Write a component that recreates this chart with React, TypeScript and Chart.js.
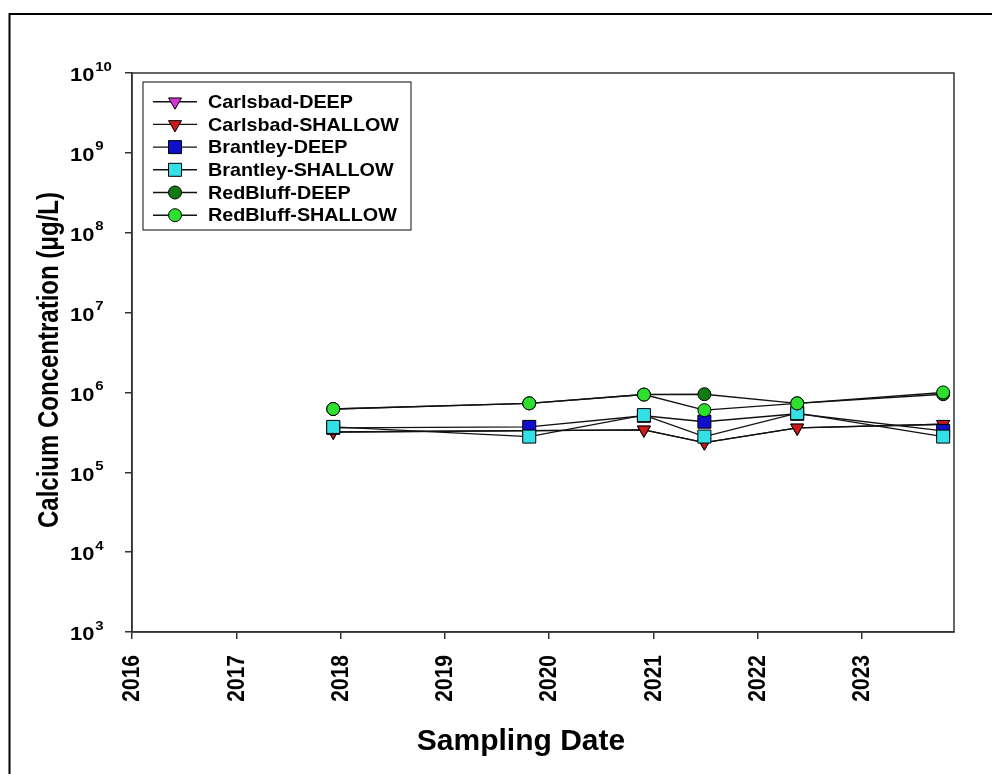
import React, { useEffect, useRef } from 'react';
import { Chart, registerables } from 'chart.js';

Chart.register(...registerables);

// Sampling dates as decimal years
const sampleDates = [2017.93, 2019.81, 2020.91, 2021.49, 2022.38, 2023.78];

// Calcium concentration (µg/L)
const carlsbadDeep: (number | null)[] = [3.2e5, null, 3.4e5, 2.35e5, 3.6e5, 4.0e5];
const carlsbadShallow: (number | null)[] = [3.2e5, null, 3.4e5, 2.35e5, 3.6e5, 4.0e5];
const brantleyDeep: (number | null)[] = [3.6e5, 3.7e5, 5.1e5, 4.3e5, 5.4e5, 3.3e5];
const brantleyShallow: (number | null)[] = [3.7e5, 2.8e5, 5.2e5, 2.8e5, 5.5e5, 2.8e5];
const redBluffDeep: (number | null)[] = [6.2e5, 7.3e5, 9.4e5, 9.5e5, 7.3e5, 9.5e5];
const redBluffShallow: (number | null)[] = [6.2e5, 7.3e5, 9.4e5, 6.0e5, 7.3e5, 1.0e6];

const seriesNames = [
  'Carlsbad-DEEP',
  'Carlsbad-SHALLOW',
  'Brantley-DEEP',
  'Brantley-SHALLOW',
  'RedBluff-DEEP',
  'RedBluff-SHALLOW',
];
const seriesValues = [carlsbadDeep, carlsbadShallow, brantleyDeep, brantleyShallow, redBluffDeep, redBluffShallow];
const seriesColors = ['#d633d6', '#cc1a1a', '#1010cc', '#33e0e6', '#127a12', '#2ee02e'];
const seriesMarkers = ['triDown', 'triDown', 'square', 'square', 'circle', 'circle'];

const yearTicks = [2016, 2017, 2018, 2019, 2020, 2021, 2022, 2023];
const xMin = 2016;
const xMax = 2023.884;
const yExponents = [3, 4, 5, 6, 7, 8, 9, 10];

const xTitle = 'Sampling Date';
const yTitle = 'Calcium Concentration (μg/L)';

const FONT = '"Liberation Sans", Arial, Helvetica, sans-serif';

function drawMarker(ctx: CanvasRenderingContext2D, kind: string, x: number, y: number, color: string) {
  ctx.save();
  ctx.fillStyle = color;
  ctx.strokeStyle = '#000';
  ctx.lineWidth = 1;
  ctx.beginPath();
  if (kind === 'circle') {
    ctx.arc(x, y, 6.5, 0, Math.PI * 2);
  } else if (kind === 'square') {
    ctx.rect(x - 6.5, y - 6.5, 13, 13);
  } else {
    const r = 7.5;
    ctx.moveTo(x, y + r);
    ctx.lineTo(x - r * Math.sin(Math.PI / 3), y - r / 2);
    ctx.lineTo(x + r * Math.sin(Math.PI / 3), y - r / 2);
    ctx.closePath();
  }
  ctx.fill();
  ctx.stroke();
  ctx.restore();
}

const decorPlugin = {
  id: 'decor',
  afterDraw(chart: any) {
    const ctx: CanvasRenderingContext2D = chart.ctx;
    const a = chart.chartArea;
    const ys = chart.scales.y;
    const xs = chart.scales.x;
    ctx.save();

    // outer frame
    ctx.strokeStyle = '#000';
    ctx.lineWidth = 2;
    ctx.beginPath();
    ctx.moveTo(9.5, 800);
    ctx.lineTo(9.5, 14);
    ctx.lineTo(1000, 14);
    ctx.stroke();

    // plot frame
    ctx.strokeStyle = '#333';
    ctx.lineWidth = 1.5;
    ctx.strokeRect(a.left, a.top, a.right - a.left, a.bottom - a.top);

    // y tick labels with superscript exponents
    ctx.fillStyle = '#000';
    ctx.textAlign = 'left';
    ctx.textBaseline = 'middle';
    yExponents.forEach((e) => {
      const py = ys.getPixelForValue(Math.pow(10, e));
      ctx.save();
      ctx.translate(70, py);
      ctx.scale(1.15, 1);
      ctx.font = `bold 19px ${FONT}`;
      ctx.fillText('10', 0, 3);
      const w = ctx.measureText('10').width;
      ctx.font = `bold 13px ${FONT}`;
      ctx.fillText(String(e), w + 0.8, -6);
      ctx.restore();
    });

    // x tick labels (rotated)
    ctx.font = `bold 21px ${FONT}`;
    ctx.textAlign = 'right';
    ctx.textBaseline = 'middle';
    yearTicks.forEach((yr) => {
      const px = xs.getPixelForValue(yr);
      ctx.save();
      ctx.translate(px + 1, 655);
      ctx.scale(1.1, 1);
      ctx.rotate(-Math.PI / 2);
      ctx.fillText(String(yr), 0, 0);
      ctx.restore();
    });

    // axis titles
    ctx.textAlign = 'center';
    ctx.textBaseline = 'middle';
    ctx.font = `bold 30px ${FONT}`;
    ctx.fillText(xTitle, 521, 742);
    ctx.save();
    ctx.translate(50, 360);
    ctx.scale(1.2, 1);
    ctx.rotate(-Math.PI / 2);
    ctx.font = `bold 24px ${FONT}`;
    ctx.fillText(yTitle, 0, 0);
    ctx.restore();

    // legend
    const lx = 143, ly = 82, lw = 268, lh = 148;
    ctx.strokeStyle = '#333';
    ctx.lineWidth = 1.2;
    ctx.fillStyle = '#fff';
    ctx.fillRect(lx, ly, lw, lh);
    ctx.strokeRect(lx, ly, lw, lh);
    ctx.textAlign = 'left';
    ctx.textBaseline = 'middle';
    seriesNames.forEach((name, i) => {
      const cy = 101.7 + i * 22.7;
      ctx.strokeStyle = '#111';
      ctx.lineWidth = 1.4;
      ctx.beginPath();
      ctx.moveTo(153, cy);
      ctx.lineTo(197, cy);
      ctx.stroke();
      drawMarker(ctx, seriesMarkers[i], 175, cy, seriesColors[i]);
      ctx.save();
      ctx.translate(208, cy + 1);
      ctx.scale(1.04, 1);
      ctx.font = `bold 19px ${FONT}`;
      ctx.fillStyle = '#000';
      ctx.fillText(name, 0, 0);
      ctx.restore();
    });

    ctx.restore();
  },
};

export default function App() {
  const ref = useRef<HTMLCanvasElement>(null);
  useEffect(() => {
    document.body.style.margin = '0';
    const datasets = seriesNames.map((name, i) => {
      const pts = sampleDates
        .map((d, k) => ({ x: d, y: seriesValues[i][k] }))
        .filter((p) => p.y !== null) as { x: number; y: number }[];
      const m = seriesMarkers[i];
      const r = m === 'circle' ? 6.5 : m === 'square' ? 9.2 : 7.5;
      return {
        label: name,
        data: pts,
        order: seriesNames.length - i,
        borderColor: '#111',
        borderWidth: 1.4,
        backgroundColor: seriesColors[i],
        pointBackgroundColor: seriesColors[i],
        pointBorderColor: '#000',
        pointBorderWidth: 1,
        pointStyle: m === 'circle' ? 'circle' : m === 'square' ? 'rect' : 'triangle',
        pointRotation: m === 'triDown' ? 180 : 0,
        pointRadius: r,
        pointHoverRadius: r,
        fill: false,
        tension: 0,
        clip: false as any,
      };
    });
    const chart = new Chart(ref.current!, {
      type: 'line',
      data: { datasets },
      plugins: [decorPlugin],
      options: {
        animation: false,
        responsive: false,
        devicePixelRatio: 1,
        layout: { padding: { top: 73, right: 38, left: 0, bottom: 0 } },
        plugins: {
          legend: { display: false },
          tooltip: { enabled: false },
          title: { display: false },
        },
        scales: {
          x: {
            type: 'linear',
            min: xMin,
            max: xMax,
            afterBuildTicks: (scale: any) => {
              scale.ticks = yearTicks.map((v) => ({ value: v }));
            },
            afterFit: (scale: any) => {
              scale.height = 142;
            },
            ticks: { display: false },
            grid: {
              display: true,
              drawOnChartArea: false,
              drawTicks: true,
              tickLength: 7,
              color: '#333',
              lineWidth: 1.5,
            },
            border: { display: true, color: '#333', width: 1.5 },
          },
          y: {
            type: 'logarithmic',
            min: 1e3,
            max: 1e10,
            afterBuildTicks: (scale: any) => {
              scale.ticks = yExponents.map((e) => ({ value: Math.pow(10, e) }));
            },
            afterFit: (scale: any) => {
              scale.width = 132;
            },
            ticks: { display: false },
            grid: {
              display: true,
              drawOnChartArea: false,
              drawTicks: true,
              tickLength: 7,
              color: '#333',
              lineWidth: 1.5,
            },
            border: { display: true, color: '#333', width: 1.5 },
          },
        },
      } as any,
    });
    return () => chart.destroy();
  }, []);
  return (
    <div style={{ width: 992, height: 774 }}>
      <canvas ref={ref} width={992} height={774} style={{ display: 'block' }} />
    </div>
  );
}
